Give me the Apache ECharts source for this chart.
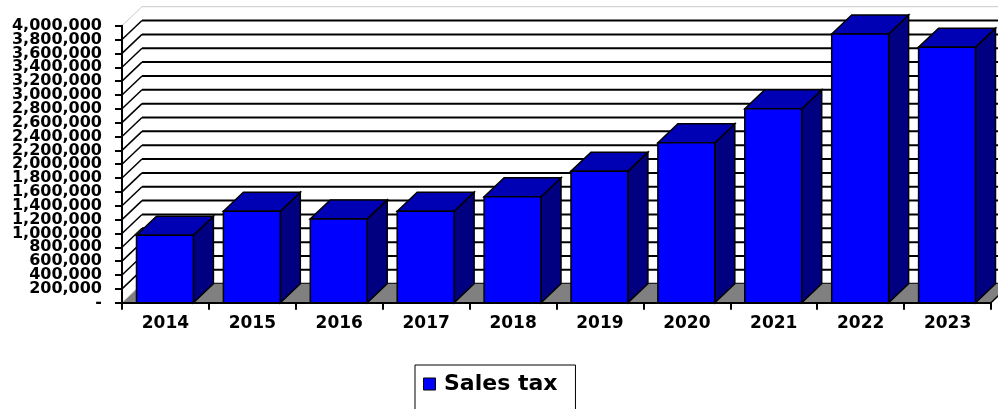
<!DOCTYPE html>
<html>
<head>
<meta charset="utf-8">
<script src="https://cdn.jsdelivr.net/npm/echarts@6/dist/echarts.min.js"></script>
<style>html,body{margin:0;padding:0;background:#fff}#c{width:998px;height:409px}</style>
</head>
<body>
<div id="c"></div>
<script>
const categories = ['2014','2015','2016','2017','2018','2019','2020','2021','2022','2023'];
const salesTax = [975000, 1320000, 1210000, 1320000, 1530000, 1900000, 2310000, 2800000, 3880000, 3690000];
const yTickValues = [0,200000,400000,600000,800000,1000000,1200000,1400000,1600000,1800000,2000000,2200000,2400000,2600000,2800000,3000000,3200000,3400000,3600000,3800000,4000000];
const yTickLabels = yTickValues.map(v => v === 0 ? '-' : String(v).replace(/\B(?=(\d{3})+(?!\d))/g, ','));
const seriesName = 'Sales tax';

const DX = 20, DY = -19;
const FONT = 'DejaVu Sans';

function extents(api){
  const band = api.size([1,0])[0];
  const xl = api.coord([0,0])[0] - band/2;
  const xr = api.coord([categories.length-1,0])[0] + band/2;
  return {band, xl, xr};
}

const chart = echarts.init(document.getElementById('c'), null, {renderer:'canvas'});
chart.setOption({
  animation: false,
  backgroundColor: '#fff',
  grid: { left: 122, right: 7, top: 25.7, bottom: 106.3, containLabel: false },
  legend: {
    data: [{ name: seriesName, icon: 'path://M0 0H10V10H0Z', itemStyle: { color: '#0000FF', borderColor: '#000', borderWidth: 1 } }],
    left: 415, top: 365, itemWidth: 19, itemHeight: 12,
    padding: [8, 18, 40, 8],
    borderColor: '#000', borderWidth: 1,
    selectedMode: false,
    textStyle: { fontSize: 22, fontWeight: 'bold', fontFamily: FONT, color: '#000' }
  },
  xAxis: {
    type: 'category', data: categories, boundaryGap: true,
    axisLine: { show: true, lineStyle: { color: '#000', width: 2 } },
    axisTick: { show: true, length: 7, alignWithLabel: false, lineStyle: { color: '#000', width: 2 } },
    axisLabel: { color: '#000', fontWeight: 'bold', fontFamily: FONT, fontSize: 17, margin: 12 },
    splitLine: { show: false }, z: 5
  },
  yAxis: {
    type: 'value', min: 0, max: 4000000, interval: 200000,
    axisLine: { show: true, lineStyle: { color: '#000', width: 2 } },
    axisTick: { show: true, length: 7, lineStyle: { color: '#000', width: 2 } },
    axisLabel: { show: false },
    splitLine: { show: false }, z: 5
  },
  series: [
    {
      type: 'custom', name: 'walls', z: 1, silent: true,
      data: yTickValues.map(v => [0, v]),
      renderItem: function(params, api){
        const e = extents(api);
        const y = api.coord([0, api.value(1)])[1];
        const last = params.dataIndex === yTickValues.length - 1;
        const first = params.dataIndex === 0;
        const hatchColor = (last || first) ? '#c8c8c8' : '#000';
        return { type: 'group', children: [
          { type: 'line', shape: { x1: e.xl + DX, y1: y + DY, x2: e.xr + DX, y2: y + DY },
            style: { stroke: last ? '#c8c8c8' : '#000', lineWidth: last ? 1 : 2 } },
          { type: 'line', shape: { x1: e.xl, y1: y, x2: e.xl + DX, y2: y + DY },
            style: { stroke: hatchColor, lineWidth: (last || first) ? 1 : 1.5 } }
        ]};
      }
    },
    {
      type: 'custom', name: 'yLabels', z: 6, silent: true,
      data: yTickValues.map(v => [0, v]),
      renderItem: function(params, api){
        const e = extents(api);
        const y = api.coord([0, api.value(1)])[1];
        return { type: 'text', x: e.xl - 20, y: y,
          style: { text: yTickLabels[params.dataIndex], fill: '#000', font: 'bold 16px "DejaVu Sans"',
            textAlign: 'right', textVerticalAlign: 'middle', verticalAlign: 'middle' } };
      }
    },
    {
      type: 'custom', name: 'floor', z: 2, silent: true,
      data: [[0, 0]],
      renderItem: function(params, api){
        const e = extents(api);
        const yb = api.coord([0, 0])[1];
        return { type: 'group', children: [
          { type: 'polygon', shape: { points: [[e.xl, yb], [e.xl + DX, yb + DY], [e.xr + DX, yb + DY], [e.xr, yb]] },
            style: { fill: '#808080' } },
          { type: 'line', shape: { x1: e.xl, y1: yb, x2: e.xl + DX, y2: yb + DY }, style: { stroke: '#d0d0d0', lineWidth: 1 } },
          { type: 'line', shape: { x1: e.xr, y1: yb, x2: e.xr + DX, y2: yb + DY }, style: { stroke: '#000', lineWidth: 1.5 } }
        ]};
      }
    },
    {
      type: 'custom', name: seriesName, z: 3,
      itemStyle: { color: '#0000FF', borderColor: '#000', borderWidth: 1 },
      data: salesTax.map((v, i) => [i, v]),
      renderItem: function(params, api){
        const idx = api.value(0);
        const base = api.coord([idx, 0]);
        const top = api.coord([idx, api.value(1)]);
        const band = api.size([1,0])[0];
        const w = band * 0.655;
        const x0 = base[0] - w/2 - 0.5, x1 = x0 + w;
        const yb = base[1], yt = top[1];
        const stroke = { stroke: '#000', lineWidth: 1.5, lineJoin: 'miter' };
        return { type: 'group', children: [
          { type: 'polygon', shape: { points: [[x1, yt], [x1 + DX, yt + DY], [x1 + DX, yb + DY], [x1, yb]] },
            style: Object.assign({ fill: '#000080' }, stroke) },
          { type: 'polygon', shape: { points: [[x0, yt], [x0 + DX, yt + DY], [x1 + DX, yt + DY], [x1, yt]] },
            style: Object.assign({ fill: '#0000B4' }, stroke) },
          { type: 'rect', shape: { x: x0, y: yt, width: w, height: yb - yt },
            style: Object.assign({ fill: '#0000FF' }, stroke) }
        ]};
      }
    }
  ]
});
</script>
</body>
</html>
